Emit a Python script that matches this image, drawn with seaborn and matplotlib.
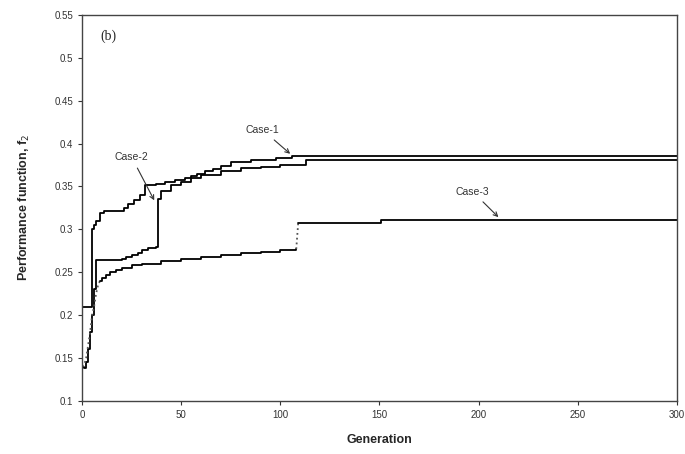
import numpy as np
import pandas as pd
import seaborn as sns
import matplotlib.pyplot as plt

# data (best-so-far values per generation)
gen_case1 = [0, 5, 6, 7, 9, 11, 21, 23, 26, 29, 31.5, 37, 42, 47, 52, 55, 58, 62, 66, 70, 75, 85, 98, 106, 300]
val_case1 = [0.21, 0.30, 0.305, 0.31, 0.319, 0.322, 0.325, 0.33, 0.334, 0.34, 0.352, 0.353, 0.355, 0.357,
             0.36, 0.362, 0.365, 0.368, 0.37, 0.374, 0.379, 0.381, 0.383, 0.386, 0.386]

gen_case2 = [0, 1, 2, 3, 4, 5, 6, 7, 12, 20, 22, 25, 28, 30, 33, 37, 38, 40, 45, 50, 55, 60,
             70, 80, 90, 100, 113, 300]
val_case2 = [0.14, 0.138, 0.145, 0.16, 0.18, 0.2, 0.23, 0.264, 0.264, 0.265, 0.268, 0.27, 0.273,
             0.276, 0.278, 0.28, 0.335, 0.345, 0.352, 0.355, 0.36, 0.363, 0.368, 0.371, 0.373,
             0.375, 0.381, 0.381]

gen_case3 = [0, 1, 2, 3, 4, 5, 6, 7, 8, 9, 10, 12, 14, 17, 20, 25, 30, 40, 50, 60, 70, 80, 90, 100,
             108, 109, 151, 300]
val_case3 = [0.14, 0.142, 0.15, 0.165, 0.18, 0.2, 0.21, 0.225, 0.235, 0.24, 0.243, 0.247, 0.25, 0.253,
             0.255, 0.258, 0.26, 0.263, 0.266, 0.268, 0.27, 0.272, 0.274, 0.276, 0.277, 0.308,
             0.311, 0.311]

x_ticks = [0, 50, 100, 150, 200, 250, 300]
y_ticks = [0.1, 0.15, 0.2, 0.25, 0.3, 0.35, 0.4, 0.45, 0.5, 0.55]

sns.set_theme(style="ticks")
plt.rcParams['font.family'] = ['Liberation Sans', 'DejaVu Sans']

fig = plt.figure(figsize=(6.85, 4.54), dpi=100)
ax = fig.add_axes([0.12, 0.117, 0.868, 0.85])

df1 = pd.DataFrame({'g': gen_case1, 'v': val_case1})
df2 = pd.DataFrame({'g': gen_case2, 'v': val_case2})
df3 = pd.DataFrame({'g': gen_case3, 'v': val_case3})

sns.lineplot(data=df1, x='g', y='v', ax=ax, color='black', lw=1.3, estimator=None, sort=False,
             drawstyle='steps-post')
sns.lineplot(data=df2, x='g', y='v', ax=ax, color='black', lw=1.3, estimator=None, sort=False,
             drawstyle='steps-post')
# case 3: dotted early climb and jump, solid elsewhere
sns.lineplot(data=df3.iloc[:10], x='g', y='v', ax=ax, color='#555555', lw=1.3, ls=':',
             estimator=None, sort=False)
sns.lineplot(data=df3.iloc[9:25], x='g', y='v', ax=ax, color='black', lw=1.3, estimator=None, sort=False,
             drawstyle='steps-post')
sns.lineplot(data=df3.iloc[24:26], x='g', y='v', ax=ax, color='#555555', lw=1.3, ls=':',
             estimator=None, sort=False)
sns.lineplot(data=df3.iloc[25:], x='g', y='v', ax=ax, color='black', lw=1.3, estimator=None, sort=False,
             drawstyle='steps-post')

ax.set_xlim(0, 300)
ax.set_ylim(0.1, 0.55)
ax.set_xticks(x_ticks)
ax.set_xticklabels([str(t) for t in x_ticks])
ax.set_yticks(y_ticks)
ax.set_yticklabels([f"{t:g}" for t in y_ticks])
ax.tick_params(labelsize=7, colors='#333333', length=3, width=0.8, direction='out')
for s in ax.spines.values():
    s.set_color('#444444')
    s.set_linewidth(1.0)

ax.set_xlabel('Generation', fontsize=9, fontweight='bold', labelpad=10)
ax.set_ylabel('Performance function, f$_2$', fontsize=9, fontweight='bold', labelpad=16)

ax.text(13, 0.525, '(b)', fontsize=10, family='Liberation Serif', ha='center', va='center')

arrow = dict(arrowstyle='->', color='#333333', lw=0.8)
ax.annotate('Case-1', xy=(106, 0.386), xytext=(91, 0.416), fontsize=7.5, ha='center', va='center',
            color='#333333', arrowprops=arrow)
ax.annotate('Case-2', xy=(37, 0.331), xytext=(25, 0.384), fontsize=7.5, ha='center', va='center',
            color='#333333', arrowprops=arrow)
ax.annotate('Case-3', xy=(211, 0.312), xytext=(197, 0.344), fontsize=7.5, ha='center', va='center',
            color='#333333', arrowprops=arrow)

fig.savefig('out.png', dpi=100)
